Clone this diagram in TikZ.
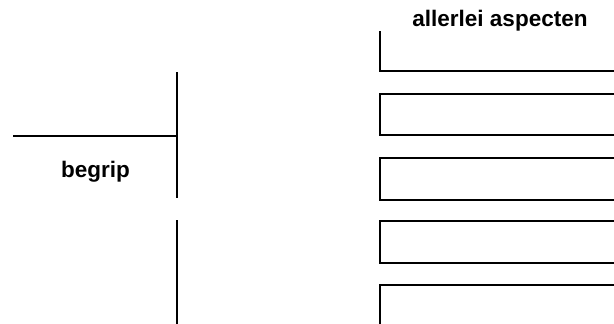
\documentclass[tikz,border=0pt]{standalone}
\usepackage{fontspec}
\setmainfont{Liberation Sans}
\begin{document}
\begin{tikzpicture}[x=1pt,y=-1pt,
  ln/.style={line width=2pt},
  lbl/.style={font=\fontsize{22.5}{26}\selectfont\bfseries, inner sep=0pt, anchor=base}]
\useasboundingbox (0,0) rectangle (614,324);
% left structure
\coordinate (hl) at (13,136);
\coordinate (hr) at (177,136);
\coordinate (vt) at (177,72);
\coordinate (vb) at (177,198);
\coordinate (v2t) at (177,220);
\coordinate (v2b) at (177,324);
\draw[ln] (hl) -- (hr);
\draw[ln] (vt) -- (vb);
\draw[ln] (v2t) -- (v2b);
\node[lbl] (begrip) at (95.5,177) {begrip};
\node[lbl] (asp) at (500,26.5) {allerlei aspecten};
% right boxes
\draw[ln] (380,31) -- (380,71) -- (614,71);
\draw[ln] (614,94) -- (380,94) -- (380,135) -- (614,135);
\draw[ln] (614,158) -- (380,158) -- (380,200) -- (614,200);
\draw[ln] (614,221) -- (380,221) -- (380,263) -- (614,263);
\draw[ln] (614,285) -- (380,285) -- (380,324);
\end{tikzpicture}
\end{document}
